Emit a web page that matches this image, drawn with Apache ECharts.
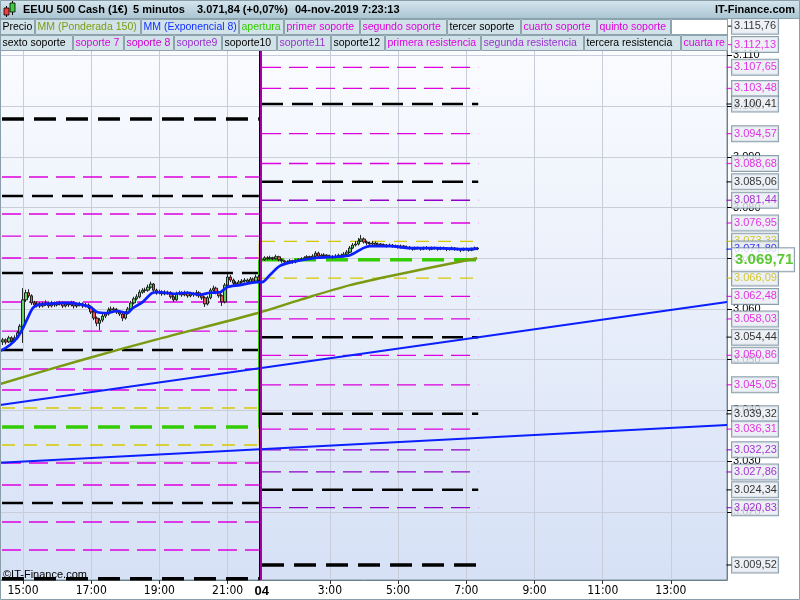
<!DOCTYPE html>
<html><head><meta charset="utf-8">
<script src="https://cdn.jsdelivr.net/npm/echarts/dist/echarts.min.js"></script>
<style>html,body{margin:0;padding:0;background:#fff}#c{width:800px;height:600px}</style>
</head><body><div id="c"></div><script>
// ---------- DATA ----------
// x axis in 5-minute bar index (0 = first bar of the left session, 91 = first bar of Nov 4 session)
const xTickBars   = [7,31,55,79,91,115,139,163,187,211,235];
const xTickLabels = ['15:00','17:00','19:00','21:00','04','3:00','5:00','7:00','9:00','11:00','13:00'];
const xGridBars   = [7,31,55,79,115,139,163,187,211,235];
const yTicks = [3020,3030,3040,3050,3060,3070,3080,3090,3100,3110];

const leftFirstOpen = 3053.5;
const leftClose = [3053.9,3053.5,3054.3,3053.7,3054.3,3055.3,3056.6,3061.8,3063.2,3062.6,
3061.2,3060.8,3061.0,3060.6,3061.0,3061.2,3060.6,3061.2,3060.8,3061.0,
3061.2,3060.6,3061.0,3060.8,3061.2,3060.6,3060.8,3061.0,3060.6,3060.8,
3060.4,3059.4,3058.2,3057.2,3057.8,3058.6,3059.0,3059.8,3060.0,3059.8,
3059.4,3059.0,3058.2,3059.2,3060.0,3061.2,3062.0,3062.4,3063.3,3063.7,
3063.7,3064.3,3064.9,3063.7,3063.2,3063.3,3063.0,3063.3,3063.2,3062.4,
3061.8,3063.0,3063.2,3062.8,3063.2,3062.6,3063.0,3062.8,3063.2,3062.6,
3062.2,3061.0,3062.2,3063.7,3064.1,3063.3,3062.6,3061.4,3064.7,3066.3,
3065.7,3065.1,3064.9,3065.3,3065.5,3065.7,3065.3,3065.9,3065.5,3066.3,
3065.7];
const leftHigh = [3054.3,3054.2,3054.7,3054.6,3054.8,3055.7,3057.0,3064.1,3063.8,3063.9,
3062.9,3061.6,3061.5,3061.4,3061.4,3061.7,3061.5,3061.6,3061.5,3061.4,
3061.6,3061.5,3061.4,3061.3,3061.6,3061.5,3061.2,3061.4,3061.3,3061.2,
3061.1,3060.7,3059.7,3058.5,3058.2,3059.0,3059.4,3060.3,3060.5,3060.4,
3060.2,3059.7,3059.3,3059.6,3060.4,3061.6,3062.4,3062.9,3063.8,3064.1,
3064.2,3064.8,3065.4,3065.1,3064.0,3063.8,3063.7,3063.7,3063.6,3063.5,
3062.7,3063.4,3063.6,3063.5,3063.6,3063.5,3063.4,3063.3,3063.7,3063.5,
3062.9,3062.5,3062.6,3064.1,3064.6,3064.4,3063.6,3062.9,3065.1,3067.0,
3066.7,3066.0,3065.5,3065.7,3065.9,3066.1,3066.0,3066.3,3066.2,3066.8,
3066.7];
const leftLow = [3052.9,3053.0,3053.3,3053.3,3053.5,3054.0,3055.0,3053.3,3061.4,3062.2,
3060.8,3060.4,3060.3,3060.2,3060.3,3060.6,3060.2,3060.3,3060.4,3060.5,
3060.7,3060.2,3060.3,3060.4,3060.5,3060.1,3060.2,3060.5,3060.2,3060.3,
3060.0,3059.0,3057.8,3056.6,3055.8,3057.4,3058.2,3058.7,3059.5,3059.4,
3059.0,3058.6,3057.6,3057.9,3058.9,3059.7,3060.9,3061.7,3062.1,3063.0,
3063.2,3063.4,3064.0,3063.3,3062.8,3062.9,3062.6,3062.7,3062.8,3062.0,
3061.4,3061.6,3062.7,3062.4,3062.5,3062.2,3062.3,3062.4,3062.5,3062.2,
3061.8,3060.4,3060.7,3061.9,3063.3,3062.9,3062.2,3060.6,3061.1,3064.4,
3065.3,3064.7,3064.5,3064.6,3065.0,3065.2,3064.9,3065.0,3065.1,3065.2,
3065.3];

const rightFirstOpen = 3069.71;
const rightClose = [3069.7,3070.1,3069.9,3070.1,3069.9,3070.3,3069.7,3069.5,3069.3,3069.3,
3069.5,3069.3,3069.5,3069.7,3069.9,3070.1,3070.3,3070.1,3070.4,3071.0,
3070.4,3070.6,3070.6,3070.4,3070.3,3070.3,3070.4,3070.6,3070.4,3070.8,
3071.2,3072.0,3072.6,3072.8,3073.4,3073.8,3073.2,3073.0,3072.8,3073.0,
3072.6,3072.8,3072.6,3072.6,3072.4,3072.6,3072.4,3072.4,3072.2,3072.4,
3072.2,3072.2,3072.0,3071.8,3072.0,3072.0,3071.8,3072.0,3072.0,3071.8,
3072.0,3072.0,3071.8,3072.0,3072.0,3071.8,3071.8,3072.0,3071.8,3071.8,
3071.6,3071.8,3071.8,3071.6,3071.8,3072.0,3071.84];
const rightHigh = [3070.1,3070.4,3070.4,3070.5,3070.3,3070.7,3070.5,3069.9,3069.7,3069.6,
3069.8,3069.7,3069.8,3070.0,3070.2,3070.4,3070.6,3070.5,3070.8,3071.4,
3071.3,3070.9,3071.0,3070.8,3070.7,3070.6,3070.8,3070.9,3070.9,3071.2,
3071.6,3072.4,3073.0,3073.4,3074.0,3074.6,3074.1,3073.5,3073.3,3073.4,
3073.3,3073.1,3073.0,3072.9,3072.8,3072.9,3072.8,3072.7,3072.6,3072.7,
3072.6,3072.5,3072.4,3072.2,3072.3,3072.3,3072.2,3072.3,3072.4,3072.2,
3072.3,3072.3,3072.2,3072.3,3072.3,3072.2,3072.1,3072.3,3072.2,3072.1,
3072.0,3072.1,3072.1,3072.0,3072.1,3072.3,3072.2];
const rightLow = [3069.2,3069.5,3069.6,3069.7,3069.6,3069.7,3069.4,3069.1,3068.9,3069.0,
3069.1,3068.9,3069.0,3069.3,3069.5,3069.7,3069.9,3069.8,3069.9,3070.2,
3070.1,3070.1,3070.3,3070.1,3070.0,3069.9,3070.0,3070.2,3070.1,3070.2,
3070.6,3071.0,3071.8,3072.3,3072.5,3073.2,3072.9,3072.6,3072.5,3072.6,
3072.3,3072.4,3072.3,3072.3,3072.1,3072.2,3072.1,3072.1,3071.9,3071.9,
3071.9,3071.9,3071.7,3071.5,3071.6,3071.7,3071.5,3071.6,3071.7,3071.5,
3071.6,3071.7,3071.5,3071.6,3071.7,3071.4,3071.5,3071.6,3071.5,3071.5,
3071.2,3071.4,3071.5,3071.3,3071.4,3071.6,3071.6];
const rightStartBar = 91;

// MM (Exponencial 8) readings
const emaBar = [-1.09,2.4,5.2,7,8.8,10.5,12.3,15.4,22.5,30.6,33.0,36.6,40.1,43.6,45.7,49.2,52.7,55.2,59.8,64.7,69.3,72.8,76.3,78.8,83.4,89.3,
                91.1,93.9,97.4,102.0,110.5,117.5,122.1,126.7,129.1,136.1,143.2,152.7,161.8,166.8];
const emaVal = [3051.7,3052.9,3054.5,3056.2,3058.4,3060.2,3060.8,3061.0,3061.2,3060.4,3059.4,3059.2,3059.6,3059.2,3060.2,3061.4,3063.2,3063.3,3063.0,3063.2,3062.8,3063.2,3063.3,3064.3,3064.7,3065.3,
                3065.3,3066.7,3068.5,3069.3,3070.1,3070.3,3070.6,3072.0,3072.4,3072.4,3072.0,3072.0,3071.8,3071.9];
// MM (Ponderada 150) readings
const wmaBar = [-1.09,27.4,53.45,89.7,104.5,122.1,139.7,166.8];
const wmaVal = [3045.2,3049.9,3053.9,3059.2,3061.8,3064.7,3066.9,3070.0];
// two blue trend lines
const trendBar = [-1.09,254.74];
const trendA = [3041.06,3061.37];
const trendB = [3029.69,3037.12];

// support / resistance levels
const leftSpan = [-0.4, 90.0];
const rightSpan = [91.1, 167.2];
const leftBlack = [3082.27,3067.09,3051.91,3021.74];
const leftBlackThick = [3097.45,3006.80];
const leftMagenta = [3086.02,3078.72,3074.38,3070.05,3061.37,3055.65,3048.16,3044.02,3029.63,3025.29,3018.00,3012.48];
const leftYellow = [3040.47,3033.18];
const leftOpen = 3036.73;
const rightBlack = [3115.76,3100.41,3085.06,3054.44,3039.32,3024.34];
const rightBlackThick = [3009.52];
const rightMagenta = [3112.13,3107.65,3103.48,3094.57,3088.68,3076.95,3062.48,3058.03,3050.86,3045.05,3036.31];
const rightPurple = [3081.44,3032.23,3027.86,3020.83];
const rightYellow = [3073.33,3066.09];
const rightOpen = 3069.71;
const emaLast = 3071.80;
const sessionBar = 90.35;

// legend cells
const legendRow1 = ['Precio','MM (Ponderada 150)','MM (Exponencial 8)','apertura','primer soporte','segundo soporte','tercer soporte','cuarto soporte','quinto soporte',''];
const legendRow1Col = ['#000','#7c9c10','#1030ff','#33cc00','#dd00dd','#dd00dd','#000','#dd00dd','#dd00dd','#000'];
const legendRow1X = [0,35,141,239,284,360,447,521,597,671,728];
const legendRow2 = ['sexto soporte','soporte 7','soporte 8','soporte9','soporte10','soporte11','soporte12','primera resistencia','segunda resistencia','tercera resistencia','cuarta re'];
const legendRow2Col = ['#000','#dd00dd','#cc00cc','#9933cc','#000','#9933cc','#000','#dd00dd','#9933cc','#000','#dd00dd'];
const legendRow2X = [0,73,124,174,222,277,331,385,481,584,681,728];
const titleParts = ['EEUU 500 Cash (1€)','5 minutos','3.071,84 (+0,07%)','04-nov-2019 7:23:13'];
const titleX = [23,133,197,295];

// ---------- STYLE ----------
const FONT = "'Liberation Sans', Arial, sans-serif";
const MAG='#dd00dd', PUR='#9000c8', BLK='#000000', YEL='#d6c800', GRN='#33cc00', OLV='#7a9a12', BLU='#0b1fff';
const X_MIN=-1.094, X_MAX=254.74, Y_MIN=3006.56, Y_MAX=3117.37;

function fmtInt(v){ const s=Math.round(v).toString(); return s.slice(0,-3)+'.'+s.slice(-3); }
function fmtBox(v){ const p=v.toFixed(2).split('.'); return p[0].slice(0,-3)+'.'+p[0].slice(-3)+','+p[1]; }

const series = [];
function levels(vals, span, color, width, dash, z){
  vals.forEach(v=>series.push({type:'line', data:[[span[0],v],[span[1],v]], symbol:'none', silent:true, animation:false,
    lineStyle:{color:color, width:width, type:dash}, z:z||2}));
}
levels(leftMagenta, leftSpan, MAG, 1.3, [19,8]);
levels(leftYellow, leftSpan, YEL, 1.3, [13,9]);
levels(leftBlack, leftSpan, BLK, 2.5, [21,9]);
levels(leftBlackThick, leftSpan, BLK, 3.5, [22,10]);
levels([leftOpen], leftSpan, GRN, 3.5, [22,10]);
levels(rightMagenta, rightSpan, MAG, 1.3, [19,8]);
levels(rightPurple, rightSpan, PUR, 1.3, [19,8]);
levels(rightYellow, rightSpan, YEL, 1.3, [13,9]);
levels(rightBlack, rightSpan, BLK, 2.5, [21,9]);
levels(rightBlackThick, rightSpan, BLK, 3.5, [22,10]);
levels([rightOpen], rightSpan, GRN, 3.5, [22,10]);

// session step verticals
series.push({type:'line', data:[[sessionBar-0.2,leftYellow[1]],[sessionBar-0.2,rightYellow[0]]], symbol:'none', silent:true, animation:false, lineStyle:{color:YEL,width:1.3}, z:2});
series.push({type:'line', data:[[sessionBar-0.3,leftOpen],[sessionBar-0.3,rightOpen]], symbol:'none', silent:true, animation:false, lineStyle:{color:GRN,width:2}, z:3});
series.push({type:'line', data:[], silent:true, animation:false, z:3,
  markLine:{silent:true, animation:false, symbol:['none','none'], label:{show:false},
    data:[{xAxis:sessionBar, lineStyle:{color:'#000',width:3,type:'solid'}},
          {xAxis:sessionBar+0.3, lineStyle:{color:MAG,width:1.5,type:'solid'}}]}});

// trend lines
series.push({type:'line', data:trendBar.map((b,i)=>[b,trendA[i]]), symbol:'none', silent:true, animation:false, lineStyle:{color:BLU,width:2}, z:3});
series.push({type:'line', data:trendBar.map((b,i)=>[b,trendB[i]]), symbol:'none', silent:true, animation:false, lineStyle:{color:BLU,width:2}, z:3});
// WMA 150
series.push({type:'line', data:wmaBar.map((b,i)=>[b,wmaVal[i]]), smooth:0.3, symbol:'none', silent:true, animation:false, lineStyle:{color:OLV,width:2.5}, z:3});

// candles
const candleRows = [];
leftClose.forEach((c,k)=>candleRows.push([k, k===0?leftFirstOpen:leftClose[k-1], c, leftLow[k], leftHigh[k]]));
rightClose.forEach((c,k)=>candleRows.push([rightStartBar+k, k===0?rightFirstOpen:rightClose[k-1], c, rightLow[k], rightHigh[k]]));
series.push({type:'candlestick', data:candleRows, encode:{x:0,y:[1,2,3,4]}, barWidth:3, silent:true, animation:false,
  itemStyle:{color:'#5fd35f', color0:'#f05555', borderColor:'#111', borderColor0:'#111', borderWidth:0.9}, z:4});
// EMA 8
series.push({type:'line', data:emaBar.map((b,i)=>[b,emaVal[i]]), smooth:0.3, symbol:'none', silent:true, animation:false, lineStyle:{color:BLU,width:2.7}, z:5});

// right axis value boxes
const boxes = [];
rightBlack.forEach(v=>boxes.push([v,BLK]));
rightBlackThick.forEach(v=>boxes.push([v,BLK]));
rightMagenta.forEach(v=>boxes.push([v,MAG]));
rightPurple.forEach(v=>boxes.push([v,PUR]));
rightYellow.forEach(v=>boxes.push([v,'#ccbb00']));
boxes.sort((a,b)=>b[0]-a[0]);
boxes.push([emaLast,'#0000ff']);
series.push({type:'scatter', xAxisIndex:1, yAxisIndex:1, symbol:'rect', symbolSize:[6,1.3], silent:true, animation:false, z:9,
  data:boxes.map(b=>({value:[2.5,b[0]], itemStyle:{color:b[1]}}))});
series.push({type:'scatter', xAxisIndex:1, yAxisIndex:1, symbolSize:0.1, silent:true, animation:false, z:10,
  data:boxes.map(b=>({value:[5,b[0]], label:{color:b[1]}})),
  label:{show:true, position:'right', distance:0, formatter:p=>fmtBox(p.value[1]), fontSize:11, fontFamily:FONT,
    backgroundColor:'#e8edf4', borderColor:'#6f8797', borderWidth:1, padding:[2,2,1,2], width:42, lineHeight:12}});
series.push({type:'scatter', xAxisIndex:1, yAxisIndex:1, symbolSize:0.1, silent:true, animation:false, z:11,
  data:[{value:[5,rightOpen]}],
  label:{show:true, position:'right', distance:0, formatter:p=>fmtBox(p.value[1]), fontSize:15, fontWeight:'bold', fontFamily:FONT, color:'#33bb00',
    backgroundColor:'#ffffff', borderColor:'#6f8797', borderWidth:1, padding:[4,2,3,3], width:57, lineHeight:16}});

// ---------- GRAPHICS (title bar, legend cells, frame) ----------
const gEls = [];
gEls.push({type:'rect', shape:{x:0,y:0,width:800,height:19}, z:100,
  style:{fill:new echarts.graphic.LinearGradient(0,0,0,1,[{offset:0,color:'#d6e6ee'},{offset:1,color:'#a9c4d1'}])}});
gEls.push({type:'line', shape:{x1:0,y1:18.5,x2:800,y2:18.5}, z:100, style:{stroke:'#8aa0ac',lineWidth:1}});
gEls.push({type:'line', shape:{x1:6.5,y1:6,x2:6.5,y2:17}, z:101, style:{stroke:'#000'}});
gEls.push({type:'rect', shape:{x:4,y:8,width:5,height:7}, z:102, style:{fill:'#ee4040',stroke:'#000',lineWidth:0.8}});
gEls.push({type:'line', shape:{x1:12.5,y1:1,x2:12.5,y2:15}, z:101, style:{stroke:'#000'}});
gEls.push({type:'rect', shape:{x:10,y:3,width:5,height:9}, z:102, style:{fill:'#40cc40',stroke:'#000',lineWidth:0.8}});
titleParts.forEach((t,i)=>gEls.push({type:'text', x:titleX[i], y:9.5, z:101,
  style:{text:t, font:'bold 11px '+FONT, fill:'#000', textVerticalAlign:'middle', verticalAlign:'middle'}}));
gEls.push({type:'text', x:795, y:9.5, z:101, style:{text:'IT-Finance.com', font:'bold 11px '+FONT, fill:'#000', align:'right', textAlign:'right', verticalAlign:'middle', textVerticalAlign:'middle'}});
function legendRow(names, cols, xs, y){
  names.forEach((n,i)=>{
    const x0=xs[i], w=xs[i+1]-xs[i]-1;
    gEls.push({type:'rect', shape:{x:x0+0.5,y:y+0.5,width:w,height:15}, z:100,
      style:{fill: n===''?'#ffffff':'#d2e2e9', stroke:'#8da3ae', lineWidth:1}});
    if(n) gEls.push({type:'text', x:x0+2.5, y:y+8.5, z:101,
      style:{text:n, font:'10.5px '+FONT, fill:cols[i], verticalAlign:'middle', textVerticalAlign:'middle'}});
  });
}
legendRow(legendRow1, legendRow1Col, legendRow1X, 19);
legendRow(legendRow2, legendRow2Col, legendRow2X, 35);
gEls.push({type:'text', x:3, y:575, z:101, style:{text:'©IT-Finance.com', font:'11px '+FONT, fill:'#000', verticalAlign:'middle', textVerticalAlign:'middle'}});
gEls.push({type:'rect', shape:{x:0.5,y:0.5,width:799,height:599}, z:120, style:{fill:'none', stroke:'#8a9eaa', lineWidth:1}});

// ---------- CHART ----------
const hiddenAxis = {show:false, axisLine:{show:false,onZero:false}, axisTick:{show:false}, axisLabel:{show:false}, splitLine:{show:false}};
const chart = echarts.init(document.getElementById('c'), null, {renderer:'canvas'});
chart.setOption({
  animation:false,
  backgroundColor:'#ffffff',
  textStyle:{fontFamily:FONT},
  grid:[
    {left:0, top:18, right:73, bottom:20, show:true, borderColor:'#7d8f9b', borderWidth:1,
     backgroundColor:new echarts.graphic.LinearGradient(0,0,0,1,[{offset:0,color:'#fcfdff'},{offset:1,color:'#d6e1f6'}])},
    {left:727, top:18, right:0, bottom:20}
  ],
  xAxis:[
    {gridIndex:0, type:'value', min:X_MIN, max:X_MAX,
     axisLine:{show:true, onZero:false, lineStyle:{color:'#6c808c'}},
     axisTick:{show:true, customValues:xGridBars, length:4, lineStyle:{color:'#333'}},
     axisLabel:{customValues:xTickBars, margin:5, fontSize:12, color:'#000',
       fontFamily:"'Liberation Sans Narrow','DejaVu Sans Condensed','Liberation Sans',sans-serif",
       formatter:v=>{const i=xTickBars.indexOf(Math.round(v)); const t=i>=0?xTickLabels[i]:''; return t==='04'?'{b|04}':t;},
       rich:{b:{fontWeight:'bold', fontSize:13, color:'#000', fontFamily:FONT}}},
     splitLine:{show:true, lineStyle:{color:'#c8cdd9', width:1}}},
    Object.assign({gridIndex:1, type:'value', min:0, max:73}, hiddenAxis)
  ],
  yAxis:[
    {gridIndex:0, type:'value', position:'right', min:Y_MIN, max:Y_MAX,
     axisLine:{show:true, onZero:false, lineStyle:{color:'#6c808c'}},
     axisTick:{show:true, customValues:yTicks, length:5, lineStyle:{color:'#000'}},
     axisLabel:{customValues:yTicks, formatter:fmtInt, margin:6, fontSize:11, color:'#000', fontFamily:FONT},
     splitLine:{show:true, lineStyle:{color:'#c8cdd9', width:1}}},
    Object.assign({gridIndex:1, type:'value', min:Y_MIN, max:Y_MAX}, hiddenAxis)
  ],
  series:series,
  graphic:{elements:gEls}
});
</script></body></html>
